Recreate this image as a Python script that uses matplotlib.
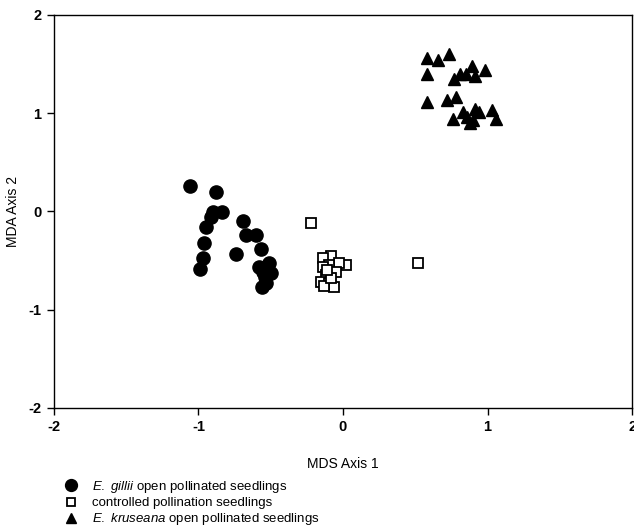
import matplotlib
matplotlib.use('Agg')
import matplotlib.pyplot as plt

plt.rcParams['font.family'] = ['Liberation Sans', 'DejaVu Sans']
plt.rcParams['mathtext.fontset'] = 'custom'
plt.rcParams['mathtext.rm'] = 'Liberation Sans'
plt.rcParams['mathtext.it'] = 'Liberation Sans:italic'

# E. gillii open pollinated seedlings
gillii_x = [-1.06, -0.88, -0.90, -0.84, -0.91, -0.95, -0.69, -0.67, -0.60, -0.96, -0.57,
            -0.74, -0.97, -0.99, -0.58, -0.51, -0.50, -0.55, -0.56, -0.53, -0.54]
gillii_y = [0.26, 0.20, -0.01, -0.01, -0.06, -0.16, -0.10, -0.24, -0.24, -0.32, -0.38,
            -0.43, -0.48, -0.59, -0.57, -0.53, -0.63, -0.62, -0.77, -0.73, -0.67]

# controlled pollination seedlings
ctrl_x = [-0.22, 0.52, -0.08, -0.14, 0.02, -0.03, -0.10, -0.14, -0.05, -0.12, -0.15,
          -0.10, -0.06, -0.13, -0.08, -0.11]
ctrl_y = [-0.12, -0.53, -0.45, -0.48, -0.55, -0.53, -0.55, -0.57, -0.62, -0.65, -0.72,
          -0.73, -0.77, -0.76, -0.68, -0.60]

# E. kruseana open pollinated seedlings
krus_x = [0.58, 0.66, 0.73, 0.58, 0.89, 0.98, 0.81, 0.77, 0.85, 0.91, 0.58,
          0.72, 0.78, 0.76, 0.83, 0.86, 0.91, 0.94, 0.88, 1.03, 1.06, 0.90]
krus_y = [1.56, 1.54, 1.60, 1.40, 1.48, 1.44, 1.40, 1.35, 1.40, 1.38, 1.11,
          1.13, 1.16, 0.94, 1.01, 0.96, 1.04, 1.01, 0.90, 1.03, 0.94, 0.93]

ticks = [-2, -1, 0, 1, 2]

fig = plt.figure(figsize=(6.34, 5.31), dpi=100)
ax = fig.add_axes([0.085, 0.232, 0.912, 0.740])

ax.plot(gillii_x, gillii_y, 'o', color='black', markersize=9.5, linestyle='none',
        label=r'$\it{E.\ gillii}$ open pollinated seedlings')
ax.plot(ctrl_x, ctrl_y, 's', markerfacecolor='white', markeredgecolor='black',
        markeredgewidth=1.3, markersize=7, linestyle='none',
        label='controlled pollination seedlings')
ax.plot(krus_x, krus_y, '^', color='black', markersize=8.5, linestyle='none',
        label=r'$\it{E.\ kruseana}$ open pollinated seedlings')

ax.set_xlim(-2, 2)
ax.set_ylim(-2, 2)
ax.set_xticks(ticks)
ax.set_yticks(ticks)
ax.set_xticklabels([str(t) for t in ticks], fontweight='bold', fontsize=10.5)
ax.set_yticklabels([str(t) for t in ticks], fontweight='bold', fontsize=10.5)
ax.tick_params(direction='out', length=5, width=1, pad=4)
for s in ax.spines.values():
    s.set_linewidth(1)
    s.set_color('black')

ax.set_xlabel('MDS Axis 1', fontsize=10, labelpad=16)
ax.set_ylabel('MDA Axis 2', fontsize=10, labelpad=6)

leg = fig.legend(loc='upper left', bbox_to_anchor=(0.102, 0.098), frameon=False,
                 fontsize=9.5, handletextpad=1.1, labelspacing=0.16, borderaxespad=0,
                 borderpad=0, handlelength=1.0, markerscale=0.9)

fig.savefig('out.png', dpi=100)
